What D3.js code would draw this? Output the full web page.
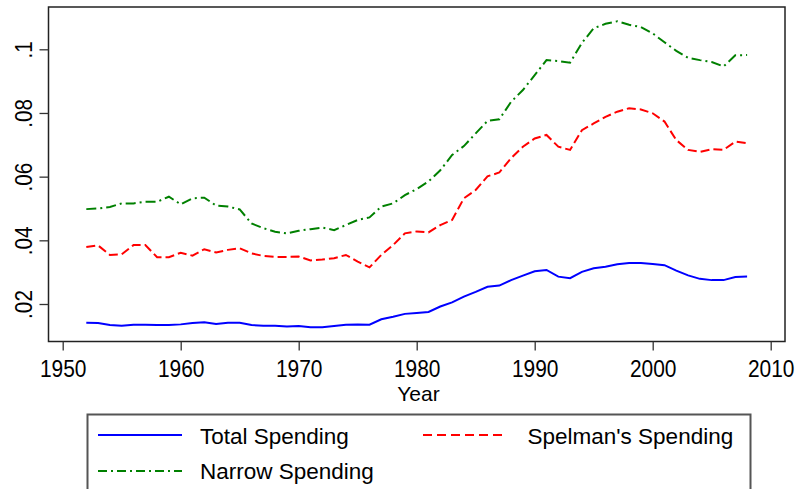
<!DOCTYPE html>
<html>
<head>
<meta charset="utf-8">
<script src="https://cdn.jsdelivr.net/npm/d3@7"></script>
<style>
  body { margin: 0; background: #fff; }
  svg { display: block; font-family: "Liberation Sans", Arial, sans-serif; }
</style>
</head>
<body>
<svg width="799" height="489"></svg>
<script>
// years 1952..2008
const years = d3.range(1952, 2009);

const totalSpending = [
  0.0141, 0.0140, 0.0134, 0.0132, 0.0135, 0.0135, 0.0134, 0.0134, 0.0136, 0.0140,
  0.0143, 0.0137, 0.0141, 0.0141, 0.0134, 0.0132, 0.0132, 0.0129, 0.0131, 0.0127,
  0.0127, 0.0131, 0.0135, 0.0136, 0.0135, 0.0152, 0.0160, 0.0169, 0.0172, 0.0175,
  0.0192, 0.0205, 0.0223, 0.0238, 0.0254, 0.0258, 0.0275, 0.0289, 0.0303, 0.0307,
  0.0286, 0.0281, 0.0301, 0.0312, 0.0317, 0.0325, 0.0329, 0.0329, 0.0326, 0.0322,
  0.0305, 0.0290, 0.0279, 0.0275, 0.0275, 0.0285, 0.0286
];

const spelmanSpending = [
  0.0379, 0.0384, 0.0354, 0.0356, 0.0385, 0.0385, 0.0347, 0.0347, 0.0361, 0.0352,
  0.0372, 0.0362, 0.0370, 0.0375, 0.0359, 0.0351, 0.0348, 0.0348, 0.0349, 0.0337,
  0.0340, 0.0344, 0.0354, 0.0333, 0.0315, 0.0354, 0.0385, 0.0422, 0.0428, 0.0425,
  0.0448, 0.0464, 0.0532, 0.0558, 0.0601, 0.0613, 0.0658, 0.0694, 0.0720, 0.0731,
  0.0694, 0.0684, 0.0746, 0.0767, 0.0788, 0.0804, 0.0815, 0.0811, 0.0799, 0.0773,
  0.0715, 0.0684, 0.0678, 0.0686, 0.0684, 0.0710, 0.0705
];

const narrowSpending = [
  0.0498, 0.0500, 0.0505, 0.0516, 0.0516, 0.0521, 0.0521, 0.0537, 0.0513, 0.0532,
  0.0534, 0.0509, 0.0506, 0.0497, 0.0453, 0.0438, 0.0427, 0.0422, 0.0430, 0.0435,
  0.0440, 0.0432, 0.0448, 0.0464, 0.0472, 0.0506, 0.0516, 0.0542, 0.0561, 0.0585,
  0.0620, 0.0668, 0.0696, 0.0736, 0.0775, 0.0780, 0.0835, 0.0872, 0.0919, 0.0966,
  0.0963, 0.0958, 0.1020, 0.1066, 0.1080, 0.1088, 0.1077, 0.1070, 0.1050, 0.1022,
  0.0995, 0.0973, 0.0966, 0.0960, 0.0946, 0.0981, 0.0982
];

const xTicks = [1950, 1960, 1970, 1980, 1990, 2000, 2010];
const yTicks = [0.02, 0.04, 0.06, 0.08, 0.1];
const yTickLabels = ['.02', '.04', '.06', '.08', '.1'];

const seriesNames = ['Total Spending', "Spelman's Spending", 'Narrow Spending'];

let series = [
  { name: seriesNames[0], values: totalSpending, color: '#0000ff', dash: null, legDash: null },
  { name: seriesNames[1], values: spelmanSpending, color: '#ff0000', dash: '9,4', legDash: '9,5' },
  { name: seriesNames[2], values: narrowSpending, color: '#008000', dash: '10,4,2,4', legDash: '9,4,2,4' }
];

let svg = d3.select('svg');

// plot region
let plot = { left: 48.5, right: 785, top: 7, bottom: 341.5 };

let x = d3.scaleLinear().domain([1950, 2010]).range([62.7, 770.7]);
let y = d3.scaleLinear().domain([0.02, 0.1]).range([304, 49.3]);

svg.append('rect')
  .attr('x', 0).attr('y', 0)
  .attr('width', 799).attr('height', 489)
  .attr('fill', '#fff');

let line = d3.line()
  .x((d, i) => x(years[i]))
  .y(d => y(d));

svg.selectAll('.series')
  .data(series)
  .enter()
    .append('path')
    .attr('class', 'series')
    .attr('d', d => line(d.values))
    .attr('fill', 'none')
    .attr('stroke', d => d.color)
    .attr('stroke-width', 2)
    .attr('stroke-dasharray', d => d.dash);

// frame
svg.append('rect')
  .attr('x', plot.left).attr('y', plot.top)
  .attr('width', plot.right - plot.left)
  .attr('height', plot.bottom - plot.top)
  .attr('fill', 'none')
  .attr('stroke', '#222')
  .attr('stroke-width', 1.5);

// x axis
let xAxis = d3.axisBottom(x)
  .tickValues(xTicks)
  .tickFormat(d3.format('d'))
  .tickSizeInner(9)
  .tickSizeOuter(0);

let gx = svg.append('g')
  .attr('transform', `translate(0,${plot.bottom})`)
  .call(xAxis);
gx.select('.domain').remove();
gx.selectAll('line').attr('stroke', '#333').attr('stroke-width', 1.3);
gx.selectAll('text')
  .attr('font-size', 23)
  .attr('fill', '#000')
  .attr('font-family', '"Liberation Sans", Arial, sans-serif')
  .attr('y', null).attr('dy', null)
  .attr('transform', 'translate(0,35) scale(0.91,1)');

// y axis
let yAxis = d3.axisLeft(y)
  .tickValues(yTicks)
  .tickFormat((d, i) => yTickLabels[i])
  .tickSizeInner(9)
  .tickSizeOuter(0);

let gy = svg.append('g')
  .attr('transform', `translate(${plot.left},0)`)
  .call(yAxis);
gy.select('.domain').remove();
gy.selectAll('line').attr('stroke', '#333').attr('stroke-width', 1.3);
gy.selectAll('text')
  .attr('font-size', 23)
  .attr('fill', '#000')
  .attr('font-family', '"Liberation Sans", Arial, sans-serif')
  .attr('x', null).attr('dy', null)
  .attr('text-anchor', 'middle')
  .attr('transform', 'translate(-17,0) rotate(-90) scale(0.9,1)');

// axis title
svg.append('text')
  .attr('x', 418.5)
  .attr('y', 401)
  .attr('text-anchor', 'middle')
  .attr('font-size', 21)
  .text('Year');

// legend
let legend = svg.append('g');
legend.append('rect')
  .attr('x', 87.5).attr('y', 414.5)
  .attr('width', 663).attr('height', 120)
  .attr('fill', '#fff')
  .attr('stroke', '#555')
  .attr('stroke-width', 2);

let legendPos = [
  { x: 98, y: 435, tx: 200, ty: 444 },
  { x: 423, y: 435, tx: 527.5, ty: 444 },
  { x: 98, y: 471, tx: 200, ty: 478.5 }
];

series.forEach((s, i) => {
  let p = legendPos[i];
  legend.append('line')
    .attr('x1', p.x).attr('x2', p.x + 84)
    .attr('y1', p.y).attr('y2', p.y)
    .attr('stroke', s.color)
    .attr('stroke-width', 2)
    .attr('stroke-dasharray', s.legDash);
  legend.append('text')
    .attr('x', p.tx)
    .attr('y', p.ty)
    .attr('font-size', 22.5)
    .attr('fill', '#000')
    .text(s.name);
});
</script>
</body>
</html>
